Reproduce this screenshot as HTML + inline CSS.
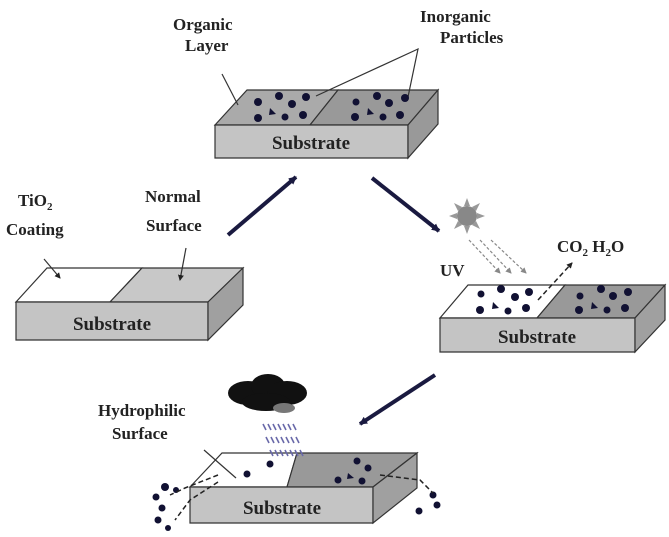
<!DOCTYPE html>
<html><head><meta charset="utf-8"><style>
body{margin:0;background:#fff}
svg{display:block}
text{font-family:"Liberation Serif",serif;font-weight:bold;fill:#222}
</style></head><body>
<svg width="669" height="537" viewBox="0 0 669 537">
<defs>
<marker id="ah" markerWidth="8" markerHeight="8" refX="7" refY="4" orient="auto" markerUnits="userSpaceOnUse"><path d="M0,0 L8,4 L0,8z" fill="#1a1a40"/></marker>
<marker id="as" markerWidth="6" markerHeight="6" refX="5" refY="3" orient="auto" markerUnits="userSpaceOnUse"><path d="M0,0 L6,3 L0,6z" fill="#222"/></marker>
<marker id="ag" markerWidth="6" markerHeight="6" refX="5" refY="3" orient="auto" markerUnits="userSpaceOnUse"><path d="M0,0 L6,3 L0,6z" fill="#888"/></marker>
</defs>
<g stroke="#333" stroke-width="1.2">
<polygon points="215,125 247,90 338,90 310,125" fill="#aaaaaa"/>
<polygon points="310,125 338,90 438,90 408,125" fill="#999"/>
<polygon points="215,125 408,125 408,158 215,158" fill="#c4c4c4"/>
<polygon points="408,125 438,90 438,124 408,158" fill="#999"/>
<polygon points="16,302 47,268 142,268 110,302" fill="#fff"/>
<polygon points="110,302 142,268 243,268 208,302" fill="#c8c8c8"/>
<polygon points="16,302 208,302 208,340 16,340" fill="#c4c4c4"/>
<polygon points="208,302 243,268 243,305 208,340" fill="#a0a0a0"/>
<polygon points="440,318 468,285 565,285 537,318" fill="#fff"/>
<polygon points="537,318 565,285 665,285 635,318" fill="#999"/>
<polygon points="440,318 635,318 635,352 440,352" fill="#c4c4c4"/>
<polygon points="635,318 665,285 665,320 635,352" fill="#a0a0a0"/>
<polygon points="190,487 222,453 297,453 287,487" fill="#fff"/>
<polygon points="287,487 297,453 417,453 373,487" fill="#999"/>
<polygon points="190,487 373,487 373,523 190,523" fill="#c4c4c4"/>
<polygon points="373,487 417,453 417,488 373,523" fill="#a0a0a0"/>
</g>
<g font-size="19" text-anchor="middle">
<text x="311" y="149">Substrate</text>
<text x="112" y="330">Substrate</text>
<text x="537" y="343">Substrate</text>
<text x="282" y="514">Substrate</text>
</g>
<g font-size="17">
<text x="173" y="30">Organic</text><text x="185" y="51">Layer</text>
<text x="420" y="22">Inorganic</text><text x="440" y="43">Particles</text>
<text x="18" y="206">TiO<tspan font-size="11" dy="4">2</tspan></text><text x="6" y="235">Coating</text>
<text x="145" y="202">Normal</text><text x="146" y="231">Surface</text>
<text x="440" y="276">UV</text>
<text x="557" y="252">CO<tspan font-size="11" dy="4">2</tspan><tspan dy="-4"> H</tspan><tspan font-size="11" dy="4">2</tspan><tspan dy="-4">O</tspan></text>
<text x="98" y="416">Hydrophilic</text><text x="112" y="439">Surface</text>
</g>
<g stroke="#1a1a40" stroke-width="4" marker-end="url(#ah)">
<line x1="228" y1="235" x2="296" y2="177"/>
<line x1="372" y1="178" x2="439" y2="231"/>
<line x1="435" y1="375" x2="360" y2="424"/>
</g>
<g stroke="#333" stroke-width="1.2" fill="none">
<line x1="222" y1="74" x2="238" y2="105"/>
<polyline points="316,96 418,49 408,97"/>
<line x1="44" y1="259" x2="60" y2="278" marker-end="url(#as)"/>
<line x1="186" y1="248" x2="180" y2="280" marker-end="url(#as)"/>
<line x1="204" y1="450" x2="236" y2="478"/>
</g>
<g fill="#111133">
<circle cx="258" cy="102" r="4"/><circle cx="279" cy="96" r="4"/><circle cx="292" cy="104" r="4"/><circle cx="306" cy="97" r="4"/><circle cx="258" cy="118" r="4"/><circle cx="285" cy="117" r="3.5"/><circle cx="303" cy="115" r="4"/><path d="M270,108 l6,6 l-7,1z"/>
<circle cx="356" cy="102" r="3.5"/><circle cx="377" cy="96" r="4"/><circle cx="389" cy="103" r="4"/><circle cx="405" cy="98" r="4"/><circle cx="355" cy="117" r="4"/><circle cx="383" cy="117" r="3.5"/><circle cx="400" cy="115" r="4"/><path d="M368,108 l6,6 l-7,1z"/>
<circle cx="481" cy="294" r="3.5"/><circle cx="501" cy="289" r="4"/><circle cx="515" cy="297" r="4"/><circle cx="529" cy="292" r="4"/><circle cx="480" cy="310" r="4"/><circle cx="508" cy="311" r="3.5"/><circle cx="526" cy="308" r="4"/><path d="M493,302 l6,6 l-7,1z"/>
<circle cx="580" cy="296" r="3.5"/><circle cx="601" cy="289" r="4"/><circle cx="613" cy="296" r="4"/><circle cx="628" cy="292" r="4"/><circle cx="579" cy="310" r="4"/><circle cx="607" cy="310" r="3.5"/><circle cx="625" cy="308" r="4"/><path d="M592,302 l6,6 l-7,1z"/>
<circle cx="270" cy="464" r="3.5"/><circle cx="247" cy="474" r="3.5"/>
<circle cx="357" cy="461" r="3.5"/><circle cx="368" cy="468" r="3.5"/><circle cx="338" cy="480" r="3.5"/><circle cx="362" cy="481" r="3.5"/><path d="M348,473 l6,5 l-7,1z"/>
<circle cx="165" cy="487" r="4"/><circle cx="156" cy="497" r="3.5"/><circle cx="162" cy="508" r="3.5"/><circle cx="158" cy="520" r="3.5"/><circle cx="168" cy="528" r="3"/><circle cx="176" cy="490" r="3"/>
<circle cx="433" cy="495" r="3.5"/><circle cx="437" cy="505" r="3.5"/><circle cx="419" cy="511" r="3.5"/>
</g>
<g stroke="#222" stroke-width="1.5" stroke-dasharray="5,3" fill="none">
<polyline points="218,475 185,488 170,495"/>
<polyline points="218,482 190,500 175,520"/>
<polyline points="380,475 420,480 433,493"/>
<line x1="538" y1="300" x2="572" y2="263" marker-end="url(#as)"/>
</g>
<g fill="#999">
<path d="M467,198 l3,8 h-6z M467,234 l3,-8 h-6z M449,216 l8,3 v-6z M485,216 l-8,3 v-6z M454,203 l8,4 l-4,4z M480,203 l-8,4 l4,4z M454,229 l8,-4 l-4,-4z M480,229 l-8,-4 l4,-4z"/>
</g>
<circle cx="467" cy="216" r="10" fill="#888"/>
<g stroke="#888" stroke-width="1.2" stroke-dasharray="3,2" marker-end="url(#ag)">
<line x1="469" y1="240" x2="500" y2="273"/><line x1="480" y1="240" x2="511" y2="273"/><line x1="491" y1="240" x2="526" y2="273"/>
</g>
<g fill="#111">
<ellipse cx="248" cy="393" rx="20" ry="12"/><ellipse cx="268" cy="386" rx="17" ry="12"/><ellipse cx="287" cy="393" rx="20" ry="12"/><ellipse cx="266" cy="402" rx="24" ry="9"/>
</g>
<ellipse cx="284" cy="408" rx="11" ry="5" fill="#777"/>
<g stroke="#6a6aaa" stroke-width="1.6">
<path d="M263,424l3,6M268,424l3,6M273,424l3,6M278,424l3,6M283,424l3,6M288,424l3,6M293,424l3,6"/>
<path d="M266,437l3,6M271,437l3,6M276,437l3,6M281,437l3,6M286,437l3,6M291,437l3,6M296,437l3,6"/>
<path d="M270,450l3,6M275,450l3,6M280,450l3,6M285,450l3,6M290,450l3,6M295,450l3,6M300,450l3,6"/>
</g>
</svg>
</body></html>
